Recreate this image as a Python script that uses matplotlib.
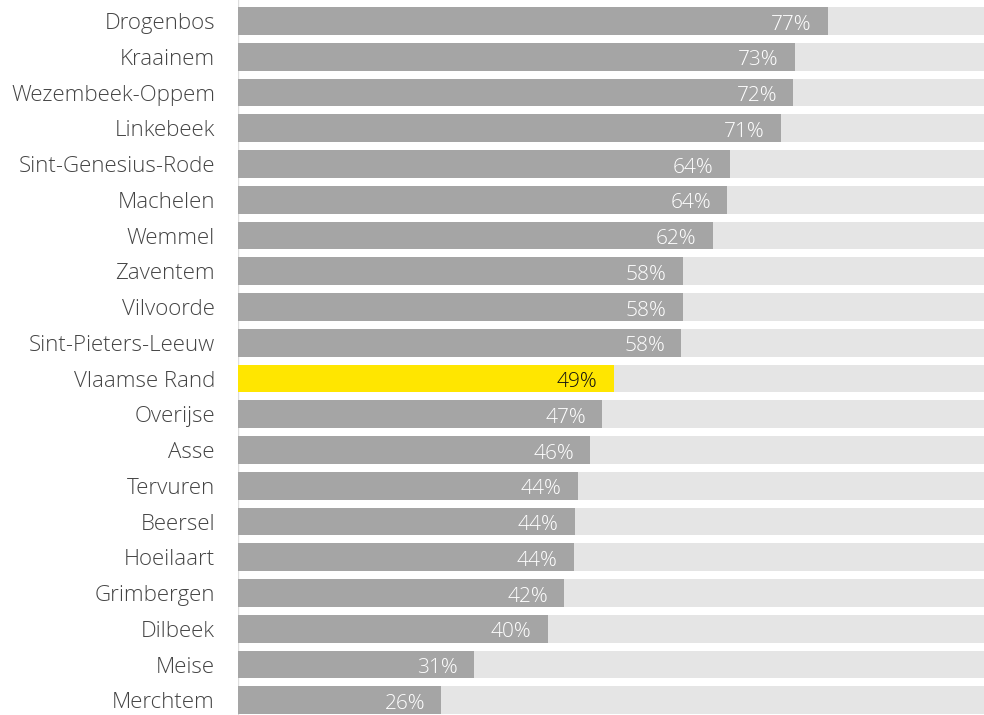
import matplotlib
matplotlib.use("Agg")
import matplotlib.pyplot as plt

categories = ["Drogenbos", "Kraainem", "Wezembeek-Oppem", "Linkebeek", "Sint-Genesius-Rode",
              "Machelen", "Wemmel", "Zaventem", "Vilvoorde", "Sint-Pieters-Leeuw",
              "Vlaamse Rand", "Overijse", "Asse", "Tervuren", "Beersel", "Hoeilaart",
              "Grimbergen", "Dilbeek", "Meise", "Merchtem"]
values = [76.9, 72.6, 72.4, 70.8, 64.1, 63.8, 61.9, 58.0, 58.0, 57.8,
          49.0, 47.5, 45.9, 44.3, 43.9, 43.8, 42.5, 40.4, 30.8, 26.5]
labels = ["77%", "73%", "72%", "71%", "64%", "64%", "62%", "58%", "58%", "58%",
          "49%", "47%", "46%", "44%", "44%", "44%", "42%", "40%", "31%", "26%"]
highlight = "Vlaamse Rand"

fam = ["Open Sans", "DejaVu Sans"]
W, H = 984, 715
fig = plt.figure(figsize=(W / 100, H / 100), dpi=100)
ax = fig.add_axes([238 / W, 0, 1 - 238 / W, 1])

n = len(categories)
ys = list(range(n))
ax.barh(ys, [100] * n, height=0.78, color="#e5e5e5", zorder=1)
colors = ["#ffe600" if c == highlight else "#a5a5a5" for c in categories]
ax.barh(ys, values, height=0.78, color=colors, zorder=2)

for y, v, lab, c in zip(ys, values, labels, categories):
    tc = "#111111" if c == highlight else "white"
    ax.text(v - 2.1, y + 0.1, lab, ha="right", va="center", color=tc,
            fontsize=15, family=fam, fontweight="light", zorder=3)
    ax.text(-3.0, y + 0.07, c, ha="right", va="center", color="#444444",
            fontsize=16, family=fam, fontweight="light", clip_on=False)

ax.set_xlim(0, 746 / 7.67)
ax.set_ylim((715 - 21) / 35.75, -21 / 35.75)
ax.axvline(0, color="#dddddd", lw=1, zorder=0)
for s in ax.spines.values():
    s.set_visible(False)
ax.set_xticks([])
ax.set_yticks([])
fig.savefig("out.png", dpi=100)
